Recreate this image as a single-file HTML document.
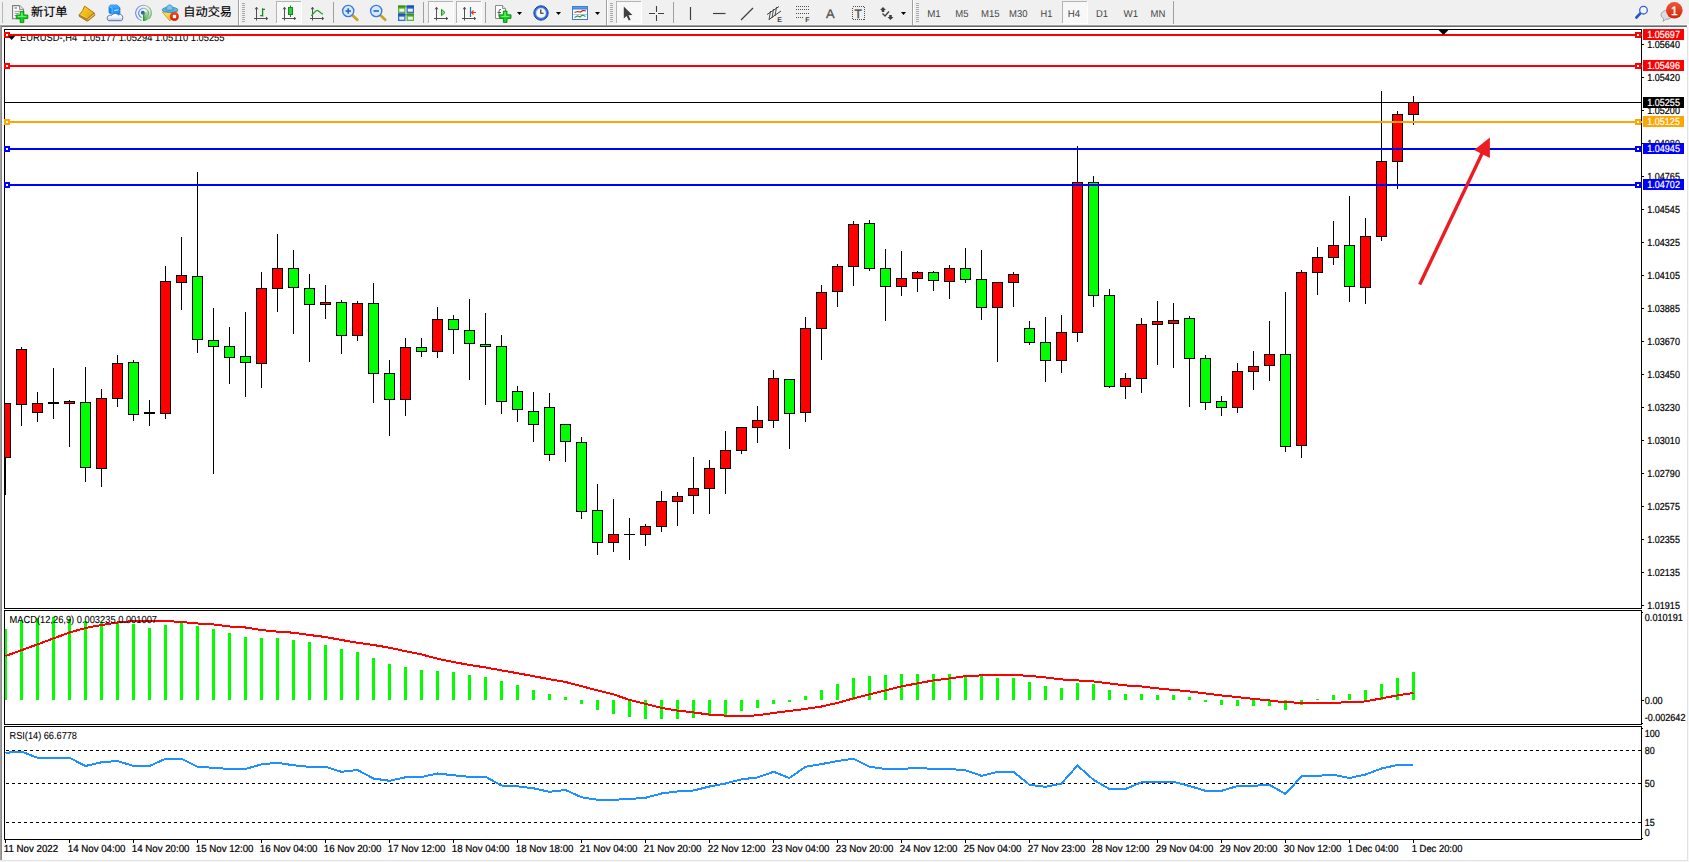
<!DOCTYPE html>
<html lang="zh"><head><meta charset="utf-8"><title>EURUSD-,H4</title>
<style>
html,body{margin:0;padding:0;background:#fff;}
body{width:1689px;height:862px;overflow:hidden;position:relative;}
svg{position:absolute;left:0;top:0;display:block;}
text{font-family:'Liberation Sans', sans-serif;text-rendering:geometricPrecision;}
.t{font-size:10.2px;stroke-width:0.22px;}
.l{stroke-width:0.08px;}
.cjk{font-family:'Liberation Sans', 'Noto Sans CJK SC', sans-serif;}
.c{shape-rendering:crispEdges;}
</style></head><body>
<svg width="1689" height="862" viewBox="0 0 1689 862">
<g class="c">
<rect x="0" y="0" width="1689" height="862" fill="#ffffff"/>
<rect x="0" y="0" width="1689" height="25" fill="#f0f0f0"/>
<rect x="0" y="24" width="1689" height="1" fill="#f6f6f6"/>
<rect x="0" y="25" width="1687" height="1" fill="#a0a0a0"/>
<rect x="1" y="26" width="1686" height="1" fill="#696969"/>
<rect x="0" y="25" width="1" height="836" fill="#a0a0a0"/>
<rect x="1" y="26" width="1" height="834" fill="#8a8a8a"/>
<rect x="1687" y="27" width="1" height="834" fill="#e3e3e3"/>
<rect x="1688" y="26" width="1" height="836" fill="#f7f7f7"/>
<rect x="0" y="860" width="1688" height="1" fill="#e3e3e3"/>
<rect x="0" y="861" width="1689" height="1" fill="#f4f4f4"/>
</g>
<g id="toolbar">
<rect class="c" x="2" y="2" width="1" height="21" fill="#b8b8b8"/>
<g>
<path d="M12.6 5.6 h7 l3.9 3.9 v9.2 h-10.9 z" fill="#ffffff" stroke="#7a7a7a" stroke-width="1.1" stroke-linejoin="round"/>
<path d="M19.5 5.5 v4 h4" fill="#e8e8e8" stroke="#8c8c8c" stroke-width="1"/>
<path d="M14.5 8 h2.5" stroke="#8a8a8a" stroke-width="1.4"/><path d="M14.5 11.3 h6 M14.5 13.4 h4.5 M14.5 15.5 h2" stroke="#8a8a8a" stroke-width="0.9"/>
<path d="M20.2 11.4 h3.6 v3.6 h4 v3.6 h-4 v4 h-3.6 v-4 h-4 v-3.6 h4 z" fill="#12d51e" stroke="#0a8a12" stroke-width="0.9"/>
<path d="M21.2 12.6 h1.4 v3.5 h3.5 v1 h-8 v-1 h3.1 z" fill="#7dfa84" opacity="0.8"/>
</g>
<text class="cjk" x="31" y="15.9" font-size="12.2" fill="#000" stroke="#000" stroke-width="0.15">新订单</text>
<defs><linearGradient id="gb" x1="0" y1="0" x2="1" y2="1"><stop offset="0" stop-color="#f7d23a"/><stop offset="0.5" stop-color="#f0bd16"/><stop offset="1" stop-color="#d9a012"/></linearGradient><linearGradient id="cl" x1="0" y1="0" x2="0" y2="1"><stop offset="0" stop-color="#ffffff"/><stop offset="0.55" stop-color="#eef2f8"/><stop offset="1" stop-color="#b4c3dc"/></linearGradient></defs>
<g>
<path d="M79.2 14.8 L87.3 18.7 L94.3 13 L94.9 15.3 L87.8 21 L86.8 21 L79.1 16.2 Z" fill="#c98d14" stroke="#9c6610" stroke-width="0.8" stroke-linejoin="round"/>
<path d="M87.6 19.6 L94.5 14.1" stroke="#f3e6b8" stroke-width="0.8"/>
<path d="M84.6 6.1 L94.2 12.9 L87.3 18.7 L79.2 14.8 Q83.2 10.8 84.6 6.1 Z" fill="url(#gb)" stroke="#a87212" stroke-width="0.9" stroke-linejoin="round"/>
<path d="M80.6 14.9 L87.2 18" stroke="#f8dd7a" stroke-width="0.8"/>
</g>
<g stroke-linejoin="round">
<path d="M109.1 6.4 L110.6 5.1 L117.2 5.1 L119.9 7.8 L119.9 14 L112.1 14.2 L109.1 12.8 Z" fill="#1e96ff" stroke="#1a5fd0" stroke-width="0.8"/>
<path d="M109.1 6.4 L112.1 8.3 L112.1 14.2 L109.1 12.8 Z" fill="#0a8cf0"/>
<path d="M109.1 6.4 L110.6 5.1 L117.2 5.1 L119.9 7.8 L112.1 8.3 Z" fill="#3aa4ff"/>
<path d="M109.3 6.5 L112.1 8.3 L112.1 14" stroke="#d8ecff" stroke-width="0.5" fill="none"/>
<path d="M114.3 10.1 L118.5 9.2 L118.5 10.2 L114.3 11.1 Z" fill="#e8f4ff"/>
<path d="M108.6 20.7 Q107 20.2 107.2 17.8 Q107.4 16 109.3 15.4 Q110.3 14.9 111.4 15.6 Q112.6 13.3 115.4 13.4 Q117.6 13.5 118.5 15.2 Q119.5 14.2 120.7 14.5 Q122.9 15.2 122.8 17.6 Q122.9 20.2 121.4 20.7 Z" fill="url(#cl)" stroke="#4a6aa8" stroke-width="0.9"/>
</g>
<defs><linearGradient id="sg" x1="0" y1="0" x2="1" y2="0"><stop offset="0" stop-color="#4a78e0"/><stop offset="0.5" stop-color="#7fa0e0"/><stop offset="0.75" stop-color="#9cc8a8"/><stop offset="1" stop-color="#5aa468"/></linearGradient><linearGradient id="sf" x1="0" y1="1" x2="0.8" y2="0"><stop offset="0" stop-color="#1fa01f"/><stop offset="0.5" stop-color="#6fbf6f" stop-opacity="0.75"/><stop offset="1" stop-color="#cfe6cf" stop-opacity="0.25"/></linearGradient></defs>
<g fill="none">
<path d="M143.4 13 V21 A8 8 0 0 0 150.6 9.5 Z" fill="url(#sf)"/>
<path d="M141.5 20.6 A7.8 7.8 0 1 1 148.5 19" stroke="url(#sg)" stroke-width="1.1" opacity="0.85"/>
<path d="M141.8 17.7 A4.9 4.9 0 1 1 146.8 16.8" stroke="url(#sg)" stroke-width="1.1" opacity="0.9"/>
<circle cx="142.8" cy="12.7" r="1.9" fill="#2a5ad0"/>
<path d="M143.6 12.8 V21" stroke="#1fa01f" stroke-width="1.1"/>
</g>
<defs><linearGradient id="yc" x1="0" y1="0" x2="1" y2="1"><stop offset="0" stop-color="#ffe873"/><stop offset="1" stop-color="#efb010"/></linearGradient><linearGradient id="rc" x1="0" y1="0" x2="0" y2="1"><stop offset="0" stop-color="#f04a28"/><stop offset="1" stop-color="#d41800"/></linearGradient></defs>
<g stroke-linejoin="round">
<path d="M162.4 12 L177.7 11.6 L169.8 20.9 Z" fill="url(#yc)" stroke="#c89010" stroke-width="0.8"/>
<ellipse cx="170" cy="9.8" rx="7.9" ry="2.6" fill="#62b4e4" stroke="#2a86b8" stroke-width="0.8"/>
<path d="M166 9.6 C166.3 3.4 172.9 3.4 173.2 9.6 C171 10.6 168 10.6 166 9.6 Z" fill="#7cc6ee" stroke="#2a86b8" stroke-width="0.8"/>
<circle cx="174.4" cy="16.6" r="4.1" fill="url(#rc)" stroke="#b81400" stroke-width="0.5"/>
<rect x="172.8" y="14.9" width="3.3" height="3.3" fill="#ffffff"/>
</g>
<text class="cjk" x="183.3" y="15.9" font-size="12.2" fill="#000" stroke="#000" stroke-width="0.15">自动交易</text>
<rect class="c" x="238" y="0" width="1" height="25" fill="#a0a0a0"/>
<rect class="c" x="239" y="0" width="1" height="25" fill="#ffffff"/>
<rect class="c" x="242" y="3" width="3" height="1" fill="#a8a8a8"/>
<rect class="c" x="242" y="5" width="3" height="1" fill="#a8a8a8"/>
<rect class="c" x="242" y="7" width="3" height="1" fill="#a8a8a8"/>
<rect class="c" x="242" y="9" width="3" height="1" fill="#a8a8a8"/>
<rect class="c" x="242" y="11" width="3" height="1" fill="#a8a8a8"/>
<rect class="c" x="242" y="13" width="3" height="1" fill="#a8a8a8"/>
<rect class="c" x="242" y="15" width="3" height="1" fill="#a8a8a8"/>
<rect class="c" x="242" y="17" width="3" height="1" fill="#a8a8a8"/>
<rect class="c" x="242" y="19" width="3" height="1" fill="#a8a8a8"/>
<rect class="c" x="242" y="21" width="3" height="1" fill="#a8a8a8"/>
<g stroke="#505050" stroke-width="1" fill="none">
<path d="M256.5 7.5 V20.5 M254.0 18.5 H267.5"/>
<path d="M255.2 9.3 L256.5 7.2 L257.8 9.3"/>
<path d="M266.0 17.2 L267.8 18.5 L266.0 19.8"/>
</g>
<path d="M262.6 8.2 V16.6 M260.2 15.6 H262.6 M262.6 9.4 H265" stroke="#158a1e" stroke-width="1.3" fill="none"/>
<rect class="c" x="276" y="1" width="26" height="23" fill="#f8f8f8"/>
<rect class="c" x="276" y="1" width="26" height="1" fill="#b4b4b4"/>
<rect class="c" x="276" y="1" width="1" height="23" fill="#b4b4b4"/>
<rect class="c" x="301" y="1" width="1" height="23" fill="#ffffff"/>
<rect class="c" x="276" y="23" width="26" height="1" fill="#ffffff"/>
<g stroke="#505050" stroke-width="1" fill="none">
<path d="M284.5 7.5 V20.5 M282.0 18.5 H295.5"/>
<path d="M283.2 9.3 L284.5 7.2 L285.8 9.3"/>
<path d="M294.0 17.2 L295.8 18.5 L294.0 19.8"/>
</g>
<path d="M290.5 5.5 V17" stroke="#158a20" stroke-width="1"/>
<rect x="288.5" y="7.5" width="4" height="7" fill="#2fd03a" stroke="#158a20" stroke-width="1"/>
<g stroke="#505050" stroke-width="1" fill="none">
<path d="M312.5 7.5 V20.5 M310.0 18.5 H323.5"/>
<path d="M311.2 9.3 L312.5 7.2 L313.8 9.3"/>
<path d="M322.0 17.2 L323.8 18.5 L322.0 19.8"/>
</g>
<path d="M311.3 15.8 C313.5 14 315.3 10.2 317.2 10.3 C319 10.4 320.5 13.5 323 14.2" stroke="#22a32e" stroke-width="1.3" fill="none"/>
<rect class="c" x="333" y="2" width="1" height="21" fill="#a0a0a0"/>
<path d="M352.7 15.5 L357.2 19.8" stroke="#c9a227" stroke-width="2.8" stroke-linecap="round"/>
<circle cx="348.2" cy="11" r="5.6" fill="#d6e9fb" stroke="#3a7bd5" stroke-width="1.4"/>
<path d="M345.5 11 h5.4" stroke="#2a66c8" stroke-width="1.7"/>
<path d="M348.2 8.3 v5.4" stroke="#2a66c8" stroke-width="1.7"/>
<path d="M380.7 15.5 L385.2 19.8" stroke="#c9a227" stroke-width="2.8" stroke-linecap="round"/>
<circle cx="376.2" cy="11" r="5.6" fill="#d6e9fb" stroke="#3a7bd5" stroke-width="1.4"/>
<path d="M373.5 11 h5.4" stroke="#2a66c8" stroke-width="1.7"/>
<rect x="398.0" y="5.5" width="7.5" height="7.5" fill="#5cb531"/>
<rect x="398.0" y="5.5" width="7.5" height="2" fill="#3d8e1c"/>
<rect x="399.3" y="8.7" width="5" height="3" fill="#ffffff" opacity="0.9"/>
<rect x="406.5" y="5.5" width="7.5" height="7.5" fill="#2f6fd8"/>
<rect x="406.5" y="5.5" width="7.5" height="2" fill="#1d4fb0"/>
<rect x="407.8" y="8.7" width="5" height="3" fill="#ffffff" opacity="0.9"/>
<rect x="398.0" y="13.5" width="7.5" height="7.5" fill="#2f6fd8"/>
<rect x="398.0" y="13.5" width="7.5" height="2" fill="#1d4fb0"/>
<rect x="399.3" y="16.7" width="5" height="3" fill="#ffffff" opacity="0.9"/>
<rect x="406.5" y="13.5" width="7.5" height="7.5" fill="#5cb531"/>
<rect x="406.5" y="13.5" width="7.5" height="2" fill="#3d8e1c"/>
<rect x="407.8" y="16.7" width="5" height="3" fill="#ffffff" opacity="0.9"/>
<rect class="c" x="423" y="2" width="1" height="21" fill="#a0a0a0"/>
<rect class="c" x="428" y="1" width="26" height="23" fill="#f8f8f8"/>
<rect class="c" x="428" y="1" width="26" height="1" fill="#b4b4b4"/>
<rect class="c" x="428" y="1" width="1" height="23" fill="#b4b4b4"/>
<rect class="c" x="453" y="1" width="1" height="23" fill="#ffffff"/>
<rect class="c" x="428" y="23" width="26" height="1" fill="#ffffff"/>
<g stroke="#505050" stroke-width="1" fill="none">
<path d="M436.5 7.5 V20.5 M434.0 18.5 H447.5"/>
<path d="M435.2 9.3 L436.5 7.2 L437.8 9.3"/>
<path d="M446.0 17.2 L447.8 18.5 L446.0 19.8"/>
</g>
<path d="M441.5 9.3 L445 12.5 L441.5 15.7 Z" fill="#7be07f" stroke="#1f9a2a" stroke-width="1"/>
<rect class="c" x="456" y="1" width="26" height="23" fill="#f8f8f8"/>
<rect class="c" x="456" y="1" width="26" height="1" fill="#b4b4b4"/>
<rect class="c" x="456" y="1" width="1" height="23" fill="#b4b4b4"/>
<rect class="c" x="481" y="1" width="1" height="23" fill="#ffffff"/>
<rect class="c" x="456" y="23" width="26" height="1" fill="#ffffff"/>
<g stroke="#505050" stroke-width="1" fill="none">
<path d="M464.5 7.5 V20.5 M462.0 18.5 H475.5"/>
<path d="M463.2 9.3 L464.5 7.2 L465.8 9.3"/>
<path d="M474.0 17.2 L475.8 18.5 L474.0 19.8"/>
</g>
<path d="M470.5 7 V17" stroke="#2a6fb8" stroke-width="1.2"/>
<path d="M476 12.5 H471.5 M473.5 10.5 L471.5 12.5 L473.5 14.5" stroke="#d8401c" stroke-width="1.2" fill="none"/>
<rect class="c" x="485" y="2" width="1" height="21" fill="#a0a0a0"/>
<path d="M495.5 5.5 h7 l3 3 v10 h-10 z" fill="#ffffff" stroke="#8c8c8c" stroke-width="1"/>
<path d="M502.5 5.5 v3 h3" fill="#e8e8e8" stroke="#8c8c8c" stroke-width="1"/>
<path d="M501 9.5 q-2 -0.5 -2 2 v5 M497.5 12.5 h3.5" stroke="#555" stroke-width="1" fill="none"/>
<path d="M503.4 11 h3.6 v3.8 h4 v3.6 h-4 v4 h-3.6 v-4 h-4 v-3.6 h4 z" fill="#12d51e" stroke="#0a8a12" stroke-width="0.9"/>
<path d="M504.4 12.3 h1.4 v3.6 h3.5 v1 h-8 v-1 h3.1 z" fill="#7dfa84" opacity="0.8"/>
<path d="M517 12 h5 l-2.5 3 z" fill="#000"/>
<circle cx="541" cy="13" r="7.2" fill="#2f6fd8" stroke="#1b4aa8" stroke-width="1"/>
<circle cx="541" cy="13" r="5" fill="#f4f7fb" stroke="#9db7e6" stroke-width="0.6"/>
<path d="M540.8 9.6 V13.2 H543.6" stroke="#222" stroke-width="1.1" fill="none"/>
<path d="M556 12 h5 l-2.5 3 z" fill="#000"/>
<rect x="572.5" y="6.5" width="15" height="13" fill="#ffffff" stroke="#3a7bd5" stroke-width="1"/>
<rect x="572.5" y="6.5" width="15" height="2.5" fill="#5d9be6" stroke="#3a7bd5" stroke-width="1"/>
<path d="M574.5 12.5 l3 -1 l3 0.5 l2.5 -1.5 l3 0.5" stroke="#b03020" stroke-width="1.2" fill="none"/>
<path d="M574.5 17.5 l3 -1.5 l2.5 1 l2.5 -2 l3 1.5" stroke="#2f9a2f" stroke-width="1.2" fill="none"/>
<path d="M573 14.5 h14" stroke="#9db7e6" stroke-width="0.8"/>
<path d="M595 12 h5 l-2.5 3 z" fill="#000"/>
<rect class="c" x="606" y="0" width="1" height="25" fill="#a0a0a0"/>
<rect class="c" x="607" y="0" width="1" height="25" fill="#ffffff"/>
<rect class="c" x="610" y="3" width="3" height="1" fill="#a8a8a8"/>
<rect class="c" x="610" y="5" width="3" height="1" fill="#a8a8a8"/>
<rect class="c" x="610" y="7" width="3" height="1" fill="#a8a8a8"/>
<rect class="c" x="610" y="9" width="3" height="1" fill="#a8a8a8"/>
<rect class="c" x="610" y="11" width="3" height="1" fill="#a8a8a8"/>
<rect class="c" x="610" y="13" width="3" height="1" fill="#a8a8a8"/>
<rect class="c" x="610" y="15" width="3" height="1" fill="#a8a8a8"/>
<rect class="c" x="610" y="17" width="3" height="1" fill="#a8a8a8"/>
<rect class="c" x="610" y="19" width="3" height="1" fill="#a8a8a8"/>
<rect class="c" x="610" y="21" width="3" height="1" fill="#a8a8a8"/>
<rect class="c" x="616" y="1" width="26" height="23" fill="#f8f8f8"/>
<rect class="c" x="616" y="1" width="26" height="1" fill="#b4b4b4"/>
<rect class="c" x="616" y="1" width="1" height="23" fill="#b4b4b4"/>
<rect class="c" x="641" y="1" width="1" height="23" fill="#ffffff"/>
<rect class="c" x="616" y="23" width="26" height="1" fill="#ffffff"/>
<path d="M623.8 6.5 L623.8 18.5 L626.6 15.9 L628.8 20.6 L630.6 19.7 L628.5 15.2 L632.4 15 Z" fill="#404040"/>
<path d="M656.5 6 V21 M649 13.5 H664" stroke="#404040" stroke-width="1.1"/>
<rect x="655" y="12" width="3" height="3" fill="#f0f0f0"/>
<rect class="c" x="673" y="2" width="1" height="21" fill="#a0a0a0"/>
<path d="M690.5 7 V20" stroke="#404040" stroke-width="1.2"/>
<path d="M713 13.5 H725.5" stroke="#404040" stroke-width="1.2"/>
<path d="M741 20 L753 8" stroke="#404040" stroke-width="1.2"/>
<g stroke="#404040" stroke-width="1" fill="none">
<path d="M767 14.5 L779 6.5 M769 19.5 L781 11"/>
<path d="M770.5 11 L769 20 M773.5 9 L772 18 M776.5 7 L775 16" stroke-width="0.9"/>
</g>
<text x="777.2" y="21.8" font-size="7" font-weight="bold" fill="#404040">E</text>
<g class="c" stroke="#505050" stroke-width="1" stroke-dasharray="1 1" fill="none">
<path d="M796 6.5 H809 M796 9.5 H809 M796 13.5 H809 M796 17.5 H804"/>
</g>
<text x="805.2" y="21.8" font-size="7" font-weight="bold" fill="#404040">F</text>
<text x="826" y="18.2" font-size="12.5" fill="#505050" stroke="#505050" stroke-width="0.3" textLength="8.6" lengthAdjust="spacingAndGlyphs">A</text>
<rect class="c" x="852.5" y="6.5" width="12" height="13" fill="none" stroke="#505050" stroke-width="1" stroke-dasharray="1 1"/>
<text x="854.6" y="17.8" font-size="12" fill="#505050" stroke="#505050" stroke-width="0.4">T</text>
<path d="M880 10 L883 7 L886 10 L884.3 10 L884.3 12 L881.7 12 L881.7 10 Z" fill="#404040"/>
<path d="M887.5 17 L889.2 17 L889.2 15 L891.8 15 L891.8 17 L893.5 17 L890.5 20 Z" fill="#404040"/>
<path d="M882.5 13.5 L885 16 L889 11.5" stroke="#404040" stroke-width="1.3" fill="none"/>
<path d="M901 12 h5 l-2.5 3 z" fill="#000"/>
<rect class="c" x="912" y="0" width="1" height="25" fill="#a0a0a0"/>
<rect class="c" x="913" y="0" width="1" height="25" fill="#ffffff"/>
<rect class="c" x="916" y="3" width="3" height="1" fill="#a8a8a8"/>
<rect class="c" x="916" y="5" width="3" height="1" fill="#a8a8a8"/>
<rect class="c" x="916" y="7" width="3" height="1" fill="#a8a8a8"/>
<rect class="c" x="916" y="9" width="3" height="1" fill="#a8a8a8"/>
<rect class="c" x="916" y="11" width="3" height="1" fill="#a8a8a8"/>
<rect class="c" x="916" y="13" width="3" height="1" fill="#a8a8a8"/>
<rect class="c" x="916" y="15" width="3" height="1" fill="#a8a8a8"/>
<rect class="c" x="916" y="17" width="3" height="1" fill="#a8a8a8"/>
<rect class="c" x="916" y="19" width="3" height="1" fill="#a8a8a8"/>
<rect class="c" x="916" y="21" width="3" height="1" fill="#a8a8a8"/>
<rect class="c" x="1062" y="1" width="26" height="23" fill="#f8f8f8"/>
<rect class="c" x="1062" y="1" width="26" height="1" fill="#b4b4b4"/>
<rect class="c" x="1062" y="1" width="1" height="23" fill="#b4b4b4"/>
<rect class="c" x="1087" y="1" width="1" height="23" fill="#ffffff"/>
<rect class="c" x="1062" y="23" width="26" height="1" fill="#ffffff"/>
<text x="927.2" y="17.2" font-size="10" fill="#444444" textLength="13.6" lengthAdjust="spacingAndGlyphs">M1</text>
<text x="955.3" y="17.2" font-size="10" fill="#444444" textLength="13.2" lengthAdjust="spacingAndGlyphs">M5</text>
<text x="981.0" y="17.2" font-size="10" fill="#444444" textLength="18.6" lengthAdjust="spacingAndGlyphs">M15</text>
<text x="1009.0" y="17.2" font-size="10" fill="#444444" textLength="18.4" lengthAdjust="spacingAndGlyphs">M30</text>
<text x="1040.5" y="17.2" font-size="10" fill="#444444" textLength="11.8" lengthAdjust="spacingAndGlyphs">H1</text>
<text x="1067.7" y="17.2" font-size="10" fill="#444444" textLength="12.4" lengthAdjust="spacingAndGlyphs">H4</text>
<text x="1096.0" y="17.2" font-size="10" fill="#444444" textLength="12.0" lengthAdjust="spacingAndGlyphs">D1</text>
<text x="1123.6" y="17.2" font-size="10" fill="#444444" textLength="14.6" lengthAdjust="spacingAndGlyphs">W1</text>
<text x="1150.5" y="17.2" font-size="10" fill="#444444" textLength="14.8" lengthAdjust="spacingAndGlyphs">MN</text>
<rect class="c" x="1173" y="1" width="1" height="23" fill="#a0a0a0"/>
<path d="M1640.8 12.9 L1636.4 17.5" stroke="#2558cc" stroke-width="2.7" stroke-linecap="round"/>
<circle cx="1643.5" cy="10.2" r="3.8" fill="#f4f4f8" stroke="#2f62d8" stroke-width="1.3"/>
<path d="M1661 15 a5.5 4.5 0 0 1 11 0 a5.5 4.5 0 0 1 -6.5 4.3 l-2.3 2.2 l0.3 -3 a5 4.5 0 0 1 -2.5 -3.5 z" fill="#dddde3" stroke="#9c9c9c" stroke-width="0.9"/>
<defs><linearGradient id="bd" x1="0" y1="0" x2="0" y2="1"><stop offset="0" stop-color="#ea5a3a"/><stop offset="1" stop-color="#d62408"/></linearGradient></defs>
<circle cx="1674.3" cy="10.3" r="8.3" fill="url(#bd)"/>
<text x="1670.9" y="14.5" font-size="12" fill="#ffffff" stroke="#ffffff" stroke-width="0.35">1</text>
</g>
<g class="c">
<rect x="4" y="29" width="1638" height="1" fill="#000"/>
<rect x="4" y="29" width="1" height="580" fill="#000"/>
<rect x="4" y="608" width="1638" height="1" fill="#000"/>
<rect x="1641" y="29" width="1" height="580" fill="#000"/>
<rect x="4" y="610" width="1638" height="1" fill="#000"/>
<rect x="4" y="610" width="1" height="115" fill="#000"/>
<rect x="4" y="724" width="1638" height="1" fill="#000"/>
<rect x="1641" y="610" width="1" height="115" fill="#000"/>
<rect x="4" y="726" width="1638" height="1" fill="#000"/>
<rect x="4" y="726" width="1" height="114" fill="#000"/>
<rect x="4" y="839" width="1638" height="1" fill="#000"/>
<rect x="1641" y="726" width="1" height="114" fill="#000"/>
</g>
<g class="c">
<rect x="5" y="403" width="1" height="92" fill="#000"/>
<rect x="5" y="403" width="6" height="55" fill="#000"/>
<rect x="5" y="404" width="5" height="53" fill="#ff0000"/>
<rect x="21" y="347" width="1" height="79" fill="#000"/>
<rect x="16" y="349" width="11" height="56" fill="#000"/>
<rect x="17" y="350" width="9" height="54" fill="#ff0000"/>
<rect x="37" y="392" width="1" height="30" fill="#000"/>
<rect x="32" y="403" width="11" height="10" fill="#000"/>
<rect x="33" y="404" width="9" height="8" fill="#ff0000"/>
<rect x="53" y="368" width="1" height="51" fill="#000"/>
<rect x="48" y="402" width="11" height="2" fill="#000"/>
<rect x="69" y="400" width="1" height="47" fill="#000"/>
<rect x="64" y="401" width="11" height="3" fill="#000"/>
<rect x="65" y="402" width="9" height="1" fill="#ff0000"/>
<rect x="85" y="367" width="1" height="115" fill="#000"/>
<rect x="80" y="402" width="11" height="66" fill="#000"/>
<rect x="81" y="403" width="9" height="64" fill="#00ff00"/>
<rect x="101" y="389" width="1" height="98" fill="#000"/>
<rect x="96" y="398" width="11" height="71" fill="#000"/>
<rect x="97" y="399" width="9" height="69" fill="#ff0000"/>
<rect x="117" y="355" width="1" height="52" fill="#000"/>
<rect x="112" y="363" width="11" height="36" fill="#000"/>
<rect x="113" y="364" width="9" height="34" fill="#ff0000"/>
<rect x="133" y="360" width="1" height="61" fill="#000"/>
<rect x="128" y="362" width="11" height="53" fill="#000"/>
<rect x="129" y="363" width="9" height="51" fill="#00ff00"/>
<rect x="149" y="400" width="1" height="26" fill="#000"/>
<rect x="144" y="412" width="11" height="2" fill="#000"/>
<rect x="165" y="266" width="1" height="153" fill="#000"/>
<rect x="160" y="281" width="11" height="133" fill="#000"/>
<rect x="161" y="282" width="9" height="131" fill="#ff0000"/>
<rect x="181" y="237" width="1" height="73" fill="#000"/>
<rect x="176" y="275" width="11" height="8" fill="#000"/>
<rect x="177" y="276" width="9" height="6" fill="#ff0000"/>
<rect x="197" y="172" width="1" height="181" fill="#000"/>
<rect x="192" y="276" width="11" height="64" fill="#000"/>
<rect x="193" y="277" width="9" height="62" fill="#00ff00"/>
<rect x="213" y="308" width="1" height="166" fill="#000"/>
<rect x="208" y="340" width="11" height="7" fill="#000"/>
<rect x="209" y="341" width="9" height="5" fill="#00ff00"/>
<rect x="229" y="327" width="1" height="57" fill="#000"/>
<rect x="224" y="346" width="11" height="12" fill="#000"/>
<rect x="225" y="347" width="9" height="10" fill="#00ff00"/>
<rect x="245" y="312" width="1" height="85" fill="#000"/>
<rect x="240" y="356" width="11" height="7" fill="#000"/>
<rect x="241" y="357" width="9" height="5" fill="#00ff00"/>
<rect x="261" y="272" width="1" height="116" fill="#000"/>
<rect x="256" y="288" width="11" height="76" fill="#000"/>
<rect x="257" y="289" width="9" height="74" fill="#ff0000"/>
<rect x="277" y="234" width="1" height="78" fill="#000"/>
<rect x="272" y="268" width="11" height="21" fill="#000"/>
<rect x="273" y="269" width="9" height="19" fill="#ff0000"/>
<rect x="293" y="250" width="1" height="84" fill="#000"/>
<rect x="288" y="268" width="11" height="20" fill="#000"/>
<rect x="289" y="269" width="9" height="18" fill="#00ff00"/>
<rect x="309" y="274" width="1" height="88" fill="#000"/>
<rect x="304" y="288" width="11" height="17" fill="#000"/>
<rect x="305" y="289" width="9" height="15" fill="#00ff00"/>
<rect x="325" y="285" width="1" height="34" fill="#000"/>
<rect x="320" y="302" width="11" height="3" fill="#000"/>
<rect x="321" y="303" width="9" height="1" fill="#ff0000"/>
<rect x="341" y="300" width="1" height="54" fill="#000"/>
<rect x="336" y="302" width="11" height="34" fill="#000"/>
<rect x="337" y="303" width="9" height="32" fill="#00ff00"/>
<rect x="357" y="301" width="1" height="40" fill="#000"/>
<rect x="352" y="303" width="11" height="33" fill="#000"/>
<rect x="353" y="304" width="9" height="31" fill="#ff0000"/>
<rect x="373" y="283" width="1" height="120" fill="#000"/>
<rect x="368" y="303" width="11" height="71" fill="#000"/>
<rect x="369" y="304" width="9" height="69" fill="#00ff00"/>
<rect x="389" y="360" width="1" height="76" fill="#000"/>
<rect x="384" y="373" width="11" height="27" fill="#000"/>
<rect x="385" y="374" width="9" height="25" fill="#00ff00"/>
<rect x="405" y="338" width="1" height="78" fill="#000"/>
<rect x="400" y="347" width="11" height="53" fill="#000"/>
<rect x="401" y="348" width="9" height="51" fill="#ff0000"/>
<rect x="421" y="338" width="1" height="19" fill="#000"/>
<rect x="416" y="347" width="11" height="5" fill="#000"/>
<rect x="417" y="348" width="9" height="3" fill="#00ff00"/>
<rect x="437" y="307" width="1" height="51" fill="#000"/>
<rect x="432" y="319" width="11" height="33" fill="#000"/>
<rect x="433" y="320" width="9" height="31" fill="#ff0000"/>
<rect x="453" y="315" width="1" height="39" fill="#000"/>
<rect x="448" y="319" width="11" height="11" fill="#000"/>
<rect x="449" y="320" width="9" height="9" fill="#00ff00"/>
<rect x="469" y="299" width="1" height="81" fill="#000"/>
<rect x="464" y="330" width="11" height="14" fill="#000"/>
<rect x="465" y="331" width="9" height="12" fill="#00ff00"/>
<rect x="485" y="313" width="1" height="92" fill="#000"/>
<rect x="480" y="344" width="11" height="3" fill="#000"/>
<rect x="481" y="345" width="9" height="1" fill="#00ff00"/>
<rect x="501" y="335" width="1" height="79" fill="#000"/>
<rect x="496" y="346" width="11" height="56" fill="#000"/>
<rect x="497" y="347" width="9" height="54" fill="#00ff00"/>
<rect x="517" y="386" width="1" height="36" fill="#000"/>
<rect x="512" y="391" width="11" height="19" fill="#000"/>
<rect x="513" y="392" width="9" height="17" fill="#00ff00"/>
<rect x="533" y="392" width="1" height="50" fill="#000"/>
<rect x="528" y="411" width="11" height="14" fill="#000"/>
<rect x="529" y="412" width="9" height="12" fill="#00ff00"/>
<rect x="549" y="393" width="1" height="68" fill="#000"/>
<rect x="544" y="407" width="11" height="48" fill="#000"/>
<rect x="545" y="408" width="9" height="46" fill="#00ff00"/>
<rect x="565" y="424" width="1" height="38" fill="#000"/>
<rect x="560" y="424" width="11" height="18" fill="#000"/>
<rect x="561" y="425" width="9" height="16" fill="#00ff00"/>
<rect x="581" y="437" width="1" height="82" fill="#000"/>
<rect x="576" y="442" width="11" height="70" fill="#000"/>
<rect x="577" y="443" width="9" height="68" fill="#00ff00"/>
<rect x="597" y="484" width="1" height="71" fill="#000"/>
<rect x="592" y="510" width="11" height="33" fill="#000"/>
<rect x="593" y="511" width="9" height="31" fill="#00ff00"/>
<rect x="613" y="499" width="1" height="53" fill="#000"/>
<rect x="608" y="534" width="11" height="9" fill="#000"/>
<rect x="609" y="535" width="9" height="7" fill="#ff0000"/>
<rect x="629" y="518" width="1" height="42" fill="#000"/>
<rect x="624" y="534" width="11" height="1" fill="#000"/>
<rect x="645" y="524" width="1" height="22" fill="#000"/>
<rect x="640" y="526" width="11" height="9" fill="#000"/>
<rect x="641" y="527" width="9" height="7" fill="#ff0000"/>
<rect x="661" y="491" width="1" height="41" fill="#000"/>
<rect x="656" y="501" width="11" height="26" fill="#000"/>
<rect x="657" y="502" width="9" height="24" fill="#ff0000"/>
<rect x="677" y="492" width="1" height="34" fill="#000"/>
<rect x="672" y="496" width="11" height="6" fill="#000"/>
<rect x="673" y="497" width="9" height="4" fill="#ff0000"/>
<rect x="693" y="457" width="1" height="57" fill="#000"/>
<rect x="688" y="488" width="11" height="8" fill="#000"/>
<rect x="689" y="489" width="9" height="6" fill="#ff0000"/>
<rect x="709" y="460" width="1" height="54" fill="#000"/>
<rect x="704" y="468" width="11" height="21" fill="#000"/>
<rect x="705" y="469" width="9" height="19" fill="#ff0000"/>
<rect x="725" y="431" width="1" height="63" fill="#000"/>
<rect x="720" y="450" width="11" height="19" fill="#000"/>
<rect x="721" y="451" width="9" height="17" fill="#ff0000"/>
<rect x="741" y="427" width="1" height="27" fill="#000"/>
<rect x="736" y="427" width="11" height="24" fill="#000"/>
<rect x="737" y="428" width="9" height="22" fill="#ff0000"/>
<rect x="757" y="406" width="1" height="37" fill="#000"/>
<rect x="752" y="420" width="11" height="8" fill="#000"/>
<rect x="753" y="421" width="9" height="6" fill="#ff0000"/>
<rect x="773" y="370" width="1" height="58" fill="#000"/>
<rect x="768" y="378" width="11" height="43" fill="#000"/>
<rect x="769" y="379" width="9" height="41" fill="#ff0000"/>
<rect x="789" y="379" width="1" height="70" fill="#000"/>
<rect x="784" y="379" width="11" height="35" fill="#000"/>
<rect x="785" y="380" width="9" height="33" fill="#00ff00"/>
<rect x="805" y="317" width="1" height="105" fill="#000"/>
<rect x="800" y="328" width="11" height="85" fill="#000"/>
<rect x="801" y="329" width="9" height="83" fill="#ff0000"/>
<rect x="821" y="285" width="1" height="75" fill="#000"/>
<rect x="816" y="292" width="11" height="37" fill="#000"/>
<rect x="817" y="293" width="9" height="35" fill="#ff0000"/>
<rect x="837" y="264" width="1" height="43" fill="#000"/>
<rect x="832" y="266" width="11" height="26" fill="#000"/>
<rect x="833" y="267" width="9" height="24" fill="#ff0000"/>
<rect x="853" y="221" width="1" height="65" fill="#000"/>
<rect x="848" y="224" width="11" height="43" fill="#000"/>
<rect x="849" y="225" width="9" height="41" fill="#ff0000"/>
<rect x="869" y="220" width="1" height="51" fill="#000"/>
<rect x="864" y="223" width="11" height="46" fill="#000"/>
<rect x="865" y="224" width="9" height="44" fill="#00ff00"/>
<rect x="885" y="249" width="1" height="72" fill="#000"/>
<rect x="880" y="268" width="11" height="19" fill="#000"/>
<rect x="881" y="269" width="9" height="17" fill="#00ff00"/>
<rect x="901" y="251" width="1" height="45" fill="#000"/>
<rect x="896" y="278" width="11" height="9" fill="#000"/>
<rect x="897" y="279" width="9" height="7" fill="#ff0000"/>
<rect x="917" y="271" width="1" height="21" fill="#000"/>
<rect x="912" y="272" width="11" height="7" fill="#000"/>
<rect x="913" y="273" width="9" height="5" fill="#ff0000"/>
<rect x="933" y="271" width="1" height="20" fill="#000"/>
<rect x="928" y="272" width="11" height="9" fill="#000"/>
<rect x="929" y="273" width="9" height="7" fill="#00ff00"/>
<rect x="949" y="265" width="1" height="34" fill="#000"/>
<rect x="944" y="268" width="11" height="14" fill="#000"/>
<rect x="945" y="269" width="9" height="12" fill="#ff0000"/>
<rect x="965" y="248" width="1" height="35" fill="#000"/>
<rect x="960" y="268" width="11" height="12" fill="#000"/>
<rect x="961" y="269" width="9" height="10" fill="#00ff00"/>
<rect x="981" y="250" width="1" height="70" fill="#000"/>
<rect x="976" y="279" width="11" height="29" fill="#000"/>
<rect x="977" y="280" width="9" height="27" fill="#00ff00"/>
<rect x="997" y="282" width="1" height="80" fill="#000"/>
<rect x="992" y="282" width="11" height="26" fill="#000"/>
<rect x="993" y="283" width="9" height="24" fill="#ff0000"/>
<rect x="1013" y="272" width="1" height="35" fill="#000"/>
<rect x="1008" y="274" width="11" height="9" fill="#000"/>
<rect x="1009" y="275" width="9" height="7" fill="#ff0000"/>
<rect x="1029" y="321" width="1" height="24" fill="#000"/>
<rect x="1024" y="328" width="11" height="15" fill="#000"/>
<rect x="1025" y="329" width="9" height="13" fill="#00ff00"/>
<rect x="1045" y="317" width="1" height="65" fill="#000"/>
<rect x="1040" y="342" width="11" height="19" fill="#000"/>
<rect x="1041" y="343" width="9" height="17" fill="#00ff00"/>
<rect x="1061" y="315" width="1" height="58" fill="#000"/>
<rect x="1056" y="332" width="11" height="29" fill="#000"/>
<rect x="1057" y="333" width="9" height="27" fill="#ff0000"/>
<rect x="1077" y="146" width="1" height="196" fill="#000"/>
<rect x="1072" y="182" width="11" height="151" fill="#000"/>
<rect x="1073" y="183" width="9" height="149" fill="#ff0000"/>
<rect x="1093" y="176" width="1" height="131" fill="#000"/>
<rect x="1088" y="182" width="11" height="114" fill="#000"/>
<rect x="1089" y="183" width="9" height="112" fill="#00ff00"/>
<rect x="1109" y="289" width="1" height="99" fill="#000"/>
<rect x="1104" y="295" width="11" height="92" fill="#000"/>
<rect x="1105" y="296" width="9" height="90" fill="#00ff00"/>
<rect x="1125" y="373" width="1" height="26" fill="#000"/>
<rect x="1120" y="378" width="11" height="9" fill="#000"/>
<rect x="1121" y="379" width="9" height="7" fill="#ff0000"/>
<rect x="1141" y="318" width="1" height="75" fill="#000"/>
<rect x="1136" y="324" width="11" height="55" fill="#000"/>
<rect x="1137" y="325" width="9" height="53" fill="#ff0000"/>
<rect x="1157" y="301" width="1" height="64" fill="#000"/>
<rect x="1152" y="321" width="11" height="4" fill="#000"/>
<rect x="1153" y="322" width="9" height="2" fill="#ff0000"/>
<rect x="1173" y="303" width="1" height="65" fill="#000"/>
<rect x="1168" y="320" width="11" height="4" fill="#000"/>
<rect x="1169" y="321" width="9" height="2" fill="#ff0000"/>
<rect x="1189" y="316" width="1" height="91" fill="#000"/>
<rect x="1184" y="318" width="11" height="41" fill="#000"/>
<rect x="1185" y="319" width="9" height="39" fill="#00ff00"/>
<rect x="1205" y="355" width="1" height="55" fill="#000"/>
<rect x="1200" y="358" width="11" height="45" fill="#000"/>
<rect x="1201" y="359" width="9" height="43" fill="#00ff00"/>
<rect x="1221" y="396" width="1" height="20" fill="#000"/>
<rect x="1216" y="401" width="11" height="7" fill="#000"/>
<rect x="1217" y="402" width="9" height="5" fill="#00ff00"/>
<rect x="1237" y="363" width="1" height="50" fill="#000"/>
<rect x="1232" y="371" width="11" height="37" fill="#000"/>
<rect x="1233" y="372" width="9" height="35" fill="#ff0000"/>
<rect x="1253" y="351" width="1" height="39" fill="#000"/>
<rect x="1248" y="366" width="11" height="6" fill="#000"/>
<rect x="1249" y="367" width="9" height="4" fill="#ff0000"/>
<rect x="1269" y="321" width="1" height="60" fill="#000"/>
<rect x="1264" y="354" width="11" height="12" fill="#000"/>
<rect x="1265" y="355" width="9" height="10" fill="#ff0000"/>
<rect x="1285" y="292" width="1" height="160" fill="#000"/>
<rect x="1280" y="354" width="11" height="93" fill="#000"/>
<rect x="1281" y="355" width="9" height="91" fill="#00ff00"/>
<rect x="1301" y="270" width="1" height="188" fill="#000"/>
<rect x="1296" y="272" width="11" height="174" fill="#000"/>
<rect x="1297" y="273" width="9" height="172" fill="#ff0000"/>
<rect x="1317" y="247" width="1" height="48" fill="#000"/>
<rect x="1312" y="257" width="11" height="16" fill="#000"/>
<rect x="1313" y="258" width="9" height="14" fill="#ff0000"/>
<rect x="1333" y="221" width="1" height="44" fill="#000"/>
<rect x="1328" y="245" width="11" height="13" fill="#000"/>
<rect x="1329" y="246" width="9" height="11" fill="#ff0000"/>
<rect x="1349" y="196" width="1" height="106" fill="#000"/>
<rect x="1344" y="245" width="11" height="42" fill="#000"/>
<rect x="1345" y="246" width="9" height="40" fill="#00ff00"/>
<rect x="1365" y="218" width="1" height="86" fill="#000"/>
<rect x="1360" y="236" width="11" height="52" fill="#000"/>
<rect x="1361" y="237" width="9" height="50" fill="#ff0000"/>
<rect x="1381" y="91" width="1" height="150" fill="#000"/>
<rect x="1376" y="161" width="11" height="76" fill="#000"/>
<rect x="1377" y="162" width="9" height="74" fill="#ff0000"/>
<rect x="1397" y="111" width="1" height="78" fill="#000"/>
<rect x="1392" y="114" width="11" height="48" fill="#000"/>
<rect x="1393" y="115" width="9" height="46" fill="#ff0000"/>
<rect x="1413" y="96" width="1" height="29" fill="#000"/>
<rect x="1408" y="102" width="11" height="13" fill="#000"/>
<rect x="1409" y="103" width="9" height="11" fill="#ff0000"/>
</g>
<g class="c">
<rect x="5" y="102" width="1636" height="1" fill="#000"/>
<rect x="5" y="34" width="1637" height="2" fill="#ff0000"/>
<rect x="4" y="32" width="6" height="6" fill="#ff0000"/>
<rect x="6" y="34" width="2" height="2" fill="#fff"/>
<rect x="1635" y="32" width="6" height="6" fill="#ff0000"/>
<rect x="1637" y="34" width="2" height="2" fill="#fff"/>
<rect x="5" y="65" width="1637" height="2" fill="#ff0000"/>
<rect x="4" y="63" width="6" height="6" fill="#ff0000"/>
<rect x="6" y="65" width="2" height="2" fill="#fff"/>
<rect x="1635" y="63" width="6" height="6" fill="#ff0000"/>
<rect x="1637" y="65" width="2" height="2" fill="#fff"/>
<rect x="5" y="121" width="1637" height="2" fill="#ffa500"/>
<rect x="4" y="119" width="6" height="6" fill="#ffa500"/>
<rect x="6" y="121" width="2" height="2" fill="#fff"/>
<rect x="1635" y="119" width="6" height="6" fill="#ffa500"/>
<rect x="1637" y="121" width="2" height="2" fill="#fff"/>
<rect x="5" y="148" width="1637" height="2" fill="#0000ff"/>
<rect x="4" y="146" width="6" height="6" fill="#0000ff"/>
<rect x="6" y="148" width="2" height="2" fill="#fff"/>
<rect x="1635" y="146" width="6" height="6" fill="#0000ff"/>
<rect x="1637" y="148" width="2" height="2" fill="#fff"/>
<rect x="5" y="184" width="1637" height="2" fill="#0000ff"/>
<rect x="4" y="182" width="6" height="6" fill="#0000ff"/>
<rect x="6" y="184" width="2" height="2" fill="#fff"/>
<rect x="1635" y="182" width="6" height="6" fill="#0000ff"/>
<rect x="1637" y="184" width="2" height="2" fill="#fff"/>
</g>
<path d="M1438.5 30 L1448.5 30 L1443.5 35 Z" fill="#000"/>
<path d="M8 36 L15.2 36 L11.6 40 Z" fill="#000"/>
<g class="c">
<rect x="1642" y="44" width="2" height="1" fill="#000"/>
<rect x="1642" y="77" width="2" height="1" fill="#000"/>
<rect x="1642" y="110" width="2" height="1" fill="#000"/>
<rect x="1642" y="143" width="2" height="1" fill="#000"/>
<rect x="1642" y="176" width="2" height="1" fill="#000"/>
<rect x="1642" y="209" width="2" height="1" fill="#000"/>
<rect x="1642" y="242" width="2" height="1" fill="#000"/>
<rect x="1642" y="275" width="2" height="1" fill="#000"/>
<rect x="1642" y="308" width="2" height="1" fill="#000"/>
<rect x="1642" y="341" width="2" height="1" fill="#000"/>
<rect x="1642" y="374" width="2" height="1" fill="#000"/>
<rect x="1642" y="407" width="2" height="1" fill="#000"/>
<rect x="1642" y="440" width="2" height="1" fill="#000"/>
<rect x="1642" y="473" width="2" height="1" fill="#000"/>
<rect x="1642" y="506" width="2" height="1" fill="#000"/>
<rect x="1642" y="539" width="2" height="1" fill="#000"/>
<rect x="1642" y="572" width="2" height="1" fill="#000"/>
<rect x="1642" y="605" width="2" height="1" fill="#000"/>
</g>
<g class="t" fill="#000" stroke="#000">
<text x="1647.3" y="48" textLength="32.6" lengthAdjust="spacingAndGlyphs">1.05640</text>
<text x="1647.3" y="81" textLength="32.6" lengthAdjust="spacingAndGlyphs">1.05420</text>
<text x="1647.3" y="114" textLength="32.6" lengthAdjust="spacingAndGlyphs">1.05200</text>
<text x="1647.3" y="147" textLength="32.6" lengthAdjust="spacingAndGlyphs">1.04980</text>
<text x="1647.3" y="180" textLength="32.6" lengthAdjust="spacingAndGlyphs">1.04765</text>
<text x="1647.3" y="213" textLength="32.6" lengthAdjust="spacingAndGlyphs">1.04545</text>
<text x="1647.3" y="246" textLength="32.6" lengthAdjust="spacingAndGlyphs">1.04325</text>
<text x="1647.3" y="279" textLength="32.6" lengthAdjust="spacingAndGlyphs">1.04105</text>
<text x="1647.3" y="312" textLength="32.6" lengthAdjust="spacingAndGlyphs">1.03885</text>
<text x="1647.3" y="345" textLength="32.6" lengthAdjust="spacingAndGlyphs">1.03670</text>
<text x="1647.3" y="378" textLength="32.6" lengthAdjust="spacingAndGlyphs">1.03450</text>
<text x="1647.3" y="411" textLength="32.6" lengthAdjust="spacingAndGlyphs">1.03230</text>
<text x="1647.3" y="444" textLength="32.6" lengthAdjust="spacingAndGlyphs">1.03010</text>
<text x="1647.3" y="477" textLength="32.6" lengthAdjust="spacingAndGlyphs">1.02790</text>
<text x="1647.3" y="510" textLength="32.6" lengthAdjust="spacingAndGlyphs">1.02575</text>
<text x="1647.3" y="543" textLength="32.6" lengthAdjust="spacingAndGlyphs">1.02355</text>
<text x="1647.3" y="576" textLength="32.6" lengthAdjust="spacingAndGlyphs">1.02135</text>
<text x="1647.3" y="609" textLength="32.6" lengthAdjust="spacingAndGlyphs">1.01915</text>
</g>
<g class="c">
<rect x="1643" y="29" width="41" height="11" fill="#ff0000"/>
<rect x="1643" y="60" width="41" height="11" fill="#ff0000"/>
<rect x="1643" y="97" width="41" height="11" fill="#000000"/>
<rect x="1643" y="116" width="41" height="11" fill="#ffa500"/>
<rect x="1643" y="143" width="41" height="11" fill="#0000ff"/>
<rect x="1643" y="179" width="41" height="11" fill="#0000ff"/>
</g>
<g class="t">
<text x="1647.3" y="38" fill="#fff" stroke="#fff" textLength="32.6" lengthAdjust="spacingAndGlyphs">1.05697</text>
<text x="1647.3" y="69" fill="#fff" stroke="#fff" textLength="32.6" lengthAdjust="spacingAndGlyphs">1.05496</text>
<text x="1647.3" y="106" fill="#fff" stroke="#fff" textLength="32.6" lengthAdjust="spacingAndGlyphs">1.05255</text>
<text x="1647.3" y="125" fill="#fff" stroke="#fff" textLength="32.6" lengthAdjust="spacingAndGlyphs">1.05125</text>
<text x="1647.3" y="152" fill="#fff" stroke="#fff" textLength="32.6" lengthAdjust="spacingAndGlyphs">1.04945</text>
<text x="1647.3" y="188" fill="#fff" stroke="#fff" textLength="32.6" lengthAdjust="spacingAndGlyphs">1.04702</text>
</g>
<text class="t l" x="20" y="41" fill="#000" stroke="#000" textLength="204.5" lengthAdjust="spacingAndGlyphs">EURUSD-,H4&#160; 1.05177 1.05294 1.05110 1.05255</text>
<g class="c"><rect x="17" y="30" width="215" height="4" fill="#ffffff"/><rect x="10" y="34" width="400" height="2" fill="#ff0000"/></g>
<g class="c">
<rect x="5" y="629" width="2" height="71" fill="#00ff00"/>
<rect x="20" y="621" width="3" height="79" fill="#00ff00"/>
<rect x="36" y="618" width="3" height="82" fill="#00ff00"/>
<rect x="52" y="617" width="3" height="83" fill="#00ff00"/>
<rect x="68" y="619" width="3" height="81" fill="#00ff00"/>
<rect x="84" y="621" width="3" height="79" fill="#00ff00"/>
<rect x="100" y="622" width="3" height="78" fill="#00ff00"/>
<rect x="116" y="623" width="3" height="77" fill="#00ff00"/>
<rect x="132" y="624" width="3" height="76" fill="#00ff00"/>
<rect x="148" y="628" width="3" height="72" fill="#00ff00"/>
<rect x="164" y="625" width="3" height="75" fill="#00ff00"/>
<rect x="180" y="623" width="3" height="77" fill="#00ff00"/>
<rect x="196" y="626" width="3" height="74" fill="#00ff00"/>
<rect x="212" y="629" width="3" height="71" fill="#00ff00"/>
<rect x="228" y="633" width="3" height="67" fill="#00ff00"/>
<rect x="244" y="637" width="3" height="63" fill="#00ff00"/>
<rect x="260" y="638" width="3" height="62" fill="#00ff00"/>
<rect x="276" y="638" width="3" height="62" fill="#00ff00"/>
<rect x="292" y="640" width="3" height="60" fill="#00ff00"/>
<rect x="308" y="642" width="3" height="58" fill="#00ff00"/>
<rect x="324" y="645" width="3" height="55" fill="#00ff00"/>
<rect x="340" y="649" width="3" height="51" fill="#00ff00"/>
<rect x="356" y="652" width="3" height="48" fill="#00ff00"/>
<rect x="372" y="658" width="3" height="42" fill="#00ff00"/>
<rect x="388" y="664" width="3" height="36" fill="#00ff00"/>
<rect x="404" y="667" width="3" height="33" fill="#00ff00"/>
<rect x="420" y="670" width="3" height="30" fill="#00ff00"/>
<rect x="436" y="671" width="3" height="29" fill="#00ff00"/>
<rect x="452" y="672" width="3" height="28" fill="#00ff00"/>
<rect x="468" y="675" width="3" height="25" fill="#00ff00"/>
<rect x="484" y="677" width="3" height="23" fill="#00ff00"/>
<rect x="500" y="681" width="3" height="19" fill="#00ff00"/>
<rect x="516" y="685" width="3" height="15" fill="#00ff00"/>
<rect x="532" y="690" width="3" height="10" fill="#00ff00"/>
<rect x="548" y="694" width="3" height="6" fill="#00ff00"/>
<rect x="564" y="697" width="3" height="3" fill="#00ff00"/>
<rect x="580" y="700" width="3" height="4" fill="#00ff00"/>
<rect x="596" y="700" width="3" height="10" fill="#00ff00"/>
<rect x="612" y="700" width="3" height="14" fill="#00ff00"/>
<rect x="628" y="700" width="3" height="17" fill="#00ff00"/>
<rect x="644" y="700" width="3" height="19" fill="#00ff00"/>
<rect x="660" y="700" width="3" height="19" fill="#00ff00"/>
<rect x="676" y="700" width="3" height="19" fill="#00ff00"/>
<rect x="692" y="700" width="3" height="18" fill="#00ff00"/>
<rect x="708" y="700" width="3" height="16" fill="#00ff00"/>
<rect x="724" y="700" width="3" height="15" fill="#00ff00"/>
<rect x="740" y="700" width="3" height="11" fill="#00ff00"/>
<rect x="756" y="700" width="3" height="8" fill="#00ff00"/>
<rect x="772" y="700" width="3" height="4" fill="#00ff00"/>
<rect x="788" y="700" width="3" height="2" fill="#00ff00"/>
<rect x="804" y="696" width="3" height="4" fill="#00ff00"/>
<rect x="820" y="690" width="3" height="10" fill="#00ff00"/>
<rect x="836" y="684" width="3" height="16" fill="#00ff00"/>
<rect x="852" y="678" width="3" height="22" fill="#00ff00"/>
<rect x="868" y="676" width="3" height="24" fill="#00ff00"/>
<rect x="884" y="675" width="3" height="25" fill="#00ff00"/>
<rect x="900" y="674" width="3" height="26" fill="#00ff00"/>
<rect x="916" y="674" width="3" height="26" fill="#00ff00"/>
<rect x="932" y="674" width="3" height="26" fill="#00ff00"/>
<rect x="948" y="674" width="3" height="26" fill="#00ff00"/>
<rect x="964" y="675" width="3" height="25" fill="#00ff00"/>
<rect x="980" y="676" width="3" height="24" fill="#00ff00"/>
<rect x="996" y="678" width="3" height="22" fill="#00ff00"/>
<rect x="1012" y="678" width="3" height="22" fill="#00ff00"/>
<rect x="1028" y="682" width="3" height="18" fill="#00ff00"/>
<rect x="1044" y="686" width="3" height="14" fill="#00ff00"/>
<rect x="1060" y="688" width="3" height="12" fill="#00ff00"/>
<rect x="1076" y="683" width="3" height="17" fill="#00ff00"/>
<rect x="1092" y="684" width="3" height="16" fill="#00ff00"/>
<rect x="1108" y="690" width="3" height="10" fill="#00ff00"/>
<rect x="1124" y="694" width="3" height="6" fill="#00ff00"/>
<rect x="1140" y="694" width="3" height="6" fill="#00ff00"/>
<rect x="1156" y="695" width="3" height="5" fill="#00ff00"/>
<rect x="1172" y="695" width="3" height="5" fill="#00ff00"/>
<rect x="1188" y="697" width="3" height="3" fill="#00ff00"/>
<rect x="1204" y="700" width="3" height="2" fill="#00ff00"/>
<rect x="1220" y="700" width="3" height="5" fill="#00ff00"/>
<rect x="1236" y="700" width="3" height="6" fill="#00ff00"/>
<rect x="1252" y="700" width="3" height="6" fill="#00ff00"/>
<rect x="1268" y="700" width="3" height="6" fill="#00ff00"/>
<rect x="1284" y="700" width="3" height="10" fill="#00ff00"/>
<rect x="1300" y="700" width="3" height="5" fill="#00ff00"/>
<rect x="1316" y="699" width="3" height="1" fill="#00ff00"/>
<rect x="1332" y="695" width="3" height="5" fill="#00ff00"/>
<rect x="1348" y="694" width="3" height="6" fill="#00ff00"/>
<rect x="1364" y="690" width="3" height="10" fill="#00ff00"/>
<rect x="1380" y="684" width="3" height="16" fill="#00ff00"/>
<rect x="1396" y="678" width="3" height="22" fill="#00ff00"/>
<rect x="1412" y="672" width="3" height="28" fill="#00ff00"/>
<polyline points="5.5,656.0 21.5,650.2 37.5,644.4 53.5,638.4 69.5,632.5 85.5,628.0 101.5,625.0 117.5,622.5 133.5,621.0 149.5,620.7 165.5,621.0 181.5,622.0 197.5,623.5 213.5,624.5 229.5,626.5 245.5,627.5 261.5,630.0 277.5,631.7 293.5,632.7 309.5,635.0 325.5,637.0 341.5,640.0 357.5,642.7 373.5,645.0 389.5,647.7 405.5,651.2 421.5,654.4 437.5,658.7 453.5,662.0 469.5,665.0 485.5,667.4 501.5,670.4 517.5,673.2 533.5,676.2 549.5,679.2 565.5,682.0 581.5,686.2 597.5,690.4 613.5,694.4 629.5,699.9 645.5,703.9 661.5,707.9 677.5,710.6 693.5,712.4 709.5,714.6 725.5,715.6 741.5,715.9 757.5,715.4 773.5,712.9 789.5,710.9 805.5,708.9 821.5,706.5 837.5,702.9 853.5,698.4 869.5,694.4 885.5,690.4 901.5,686.4 917.5,683.4 933.5,680.4 949.5,678.4 965.5,676.2 981.5,675.4 997.5,674.9 1013.5,674.9 1029.5,675.9 1045.5,677.4 1061.5,679.4 1077.5,680.4 1093.5,681.4 1109.5,683.4 1125.5,685.4 1141.5,686.4 1157.5,688.4 1173.5,689.9 1189.5,691.4 1205.5,693.4 1221.5,695.4 1237.5,697.1 1253.5,698.9 1269.5,700.4 1285.5,702.4 1301.5,702.6 1317.5,702.6 1333.5,702.6 1349.5,702.4 1365.5,701.4 1381.5,698.4 1397.5,695.4 1413.5,692.9" fill="none" stroke="#ff0000" stroke-width="2" stroke-linejoin="round"/>
</g>
<text class="t l" x="9.5" y="623" fill="#000" stroke="#000" textLength="147.5" lengthAdjust="spacingAndGlyphs">MACD(12,26,9) 0.003235 0.001007</text>
<g class="t" fill="#000" stroke="#000">
<text x="1644.8" y="621" textLength="38" lengthAdjust="spacingAndGlyphs">0.010191</text>
<text x="1644.8" y="704" textLength="17.8" lengthAdjust="spacingAndGlyphs">0.00</text>
<text x="1644.8" y="721" textLength="40.6" lengthAdjust="spacingAndGlyphs">-0.002642</text>
</g>
<g class="c"><rect x="1642" y="700" width="2" height="1" fill="#000"/><rect x="1642" y="612" width="1" height="1" fill="#000"/><rect x="1642" y="723" width="1" height="1" fill="#000"/><rect x="1642" y="728" width="1" height="1" fill="#000"/><rect x="1642" y="838" width="1" height="1" fill="#000"/></g>
<g class="c">
<line x1="6" y1="750.5" x2="1641" y2="750.5" stroke="#000" stroke-width="1" stroke-dasharray="3 3"/>
<line x1="6" y1="783.5" x2="1641" y2="783.5" stroke="#000" stroke-width="1" stroke-dasharray="3 3"/>
<line x1="6" y1="822.5" x2="1641" y2="822.5" stroke="#000" stroke-width="1" stroke-dasharray="3 3"/>
<polyline points="5.5,752.8 21.5,751.6 37.5,757.8 53.5,757.8 69.5,757.8 85.5,766.0 101.5,762.3 117.5,761.0 133.5,766.0 149.5,766.0 165.5,758.8 181.5,758.8 197.5,766.8 213.5,767.8 229.5,769.0 245.5,769.0 261.5,764.3 277.5,762.8 293.5,765.3 309.5,766.8 325.5,766.8 341.5,771.8 357.5,770.0 373.5,778.5 389.5,780.8 405.5,777.3 421.5,777.0 437.5,773.5 453.5,775.3 469.5,776.8 485.5,776.8 501.5,785.5 517.5,786.3 533.5,788.3 549.5,791.8 565.5,790.0 581.5,797.3 597.5,799.8 613.5,799.8 629.5,799.0 645.5,797.8 661.5,793.5 677.5,791.5 693.5,790.5 709.5,786.5 725.5,783.5 741.5,779.3 757.5,777.5 773.5,771.8 789.5,778.0 805.5,766.8 821.5,764.1 837.5,761.0 853.5,758.8 869.5,766.8 885.5,769.0 901.5,769.0 917.5,767.8 933.5,769.0 949.5,769.0 965.5,770.3 981.5,775.8 997.5,771.8 1013.5,771.8 1029.5,784.8 1045.5,786.8 1061.5,783.5 1077.5,765.5 1093.5,779.8 1109.5,789.0 1125.5,789.0 1141.5,782.3 1157.5,781.8 1173.5,781.8 1189.5,786.0 1205.5,790.8 1221.5,790.8 1237.5,786.0 1253.5,785.8 1269.5,784.8 1285.5,794.0 1301.5,776.3 1317.5,775.8 1333.5,774.8 1349.5,778.0 1365.5,774.5 1381.5,768.5 1397.5,765.0 1413.5,764.8" fill="none" stroke="#1e90ff" stroke-width="2" stroke-linejoin="round"/>
</g>
<text class="t l" x="9.5" y="739" fill="#000" stroke="#000" textLength="67.5" lengthAdjust="spacingAndGlyphs">RSI(14) 66.6778</text>
<g class="t" fill="#000" stroke="#000">
<text x="1644.8" y="737" textLength="15.0" lengthAdjust="spacingAndGlyphs">100</text>
<text x="1644.8" y="754" textLength="10.0" lengthAdjust="spacingAndGlyphs">80</text>
<text x="1644.8" y="787" textLength="10.0" lengthAdjust="spacingAndGlyphs">50</text>
<text x="1644.8" y="826" textLength="10.0" lengthAdjust="spacingAndGlyphs">15</text>
<text x="1644.8" y="836" textLength="5.0" lengthAdjust="spacingAndGlyphs">0</text>
</g>
<g class="c">
<rect x="5" y="840" width="1" height="3" fill="#000"/>
<rect x="69" y="840" width="1" height="3" fill="#000"/>
<rect x="133" y="840" width="1" height="3" fill="#000"/>
<rect x="197" y="840" width="1" height="3" fill="#000"/>
<rect x="261" y="840" width="1" height="3" fill="#000"/>
<rect x="325" y="840" width="1" height="3" fill="#000"/>
<rect x="389" y="840" width="1" height="3" fill="#000"/>
<rect x="453" y="840" width="1" height="3" fill="#000"/>
<rect x="517" y="840" width="1" height="3" fill="#000"/>
<rect x="581" y="840" width="1" height="3" fill="#000"/>
<rect x="645" y="840" width="1" height="3" fill="#000"/>
<rect x="709" y="840" width="1" height="3" fill="#000"/>
<rect x="773" y="840" width="1" height="3" fill="#000"/>
<rect x="837" y="840" width="1" height="3" fill="#000"/>
<rect x="901" y="840" width="1" height="3" fill="#000"/>
<rect x="965" y="840" width="1" height="3" fill="#000"/>
<rect x="1029" y="840" width="1" height="3" fill="#000"/>
<rect x="1093" y="840" width="1" height="3" fill="#000"/>
<rect x="1157" y="840" width="1" height="3" fill="#000"/>
<rect x="1221" y="840" width="1" height="3" fill="#000"/>
<rect x="1285" y="840" width="1" height="3" fill="#000"/>
<rect x="1349" y="840" width="1" height="3" fill="#000"/>
<rect x="1413" y="840" width="1" height="3" fill="#000"/>
</g>
<g class="t" fill="#000" stroke="#000">
<text x="3.8" y="852" textLength="54.3" lengthAdjust="spacingAndGlyphs">11 Nov 2022</text>
<text x="67.8" y="852" textLength="57.7" lengthAdjust="spacingAndGlyphs">14 Nov 04:00</text>
<text x="131.8" y="852" textLength="57.7" lengthAdjust="spacingAndGlyphs">14 Nov 20:00</text>
<text x="195.8" y="852" textLength="57.7" lengthAdjust="spacingAndGlyphs">15 Nov 12:00</text>
<text x="259.8" y="852" textLength="57.7" lengthAdjust="spacingAndGlyphs">16 Nov 04:00</text>
<text x="323.8" y="852" textLength="57.7" lengthAdjust="spacingAndGlyphs">16 Nov 20:00</text>
<text x="387.8" y="852" textLength="57.7" lengthAdjust="spacingAndGlyphs">17 Nov 12:00</text>
<text x="451.8" y="852" textLength="57.7" lengthAdjust="spacingAndGlyphs">18 Nov 04:00</text>
<text x="515.8" y="852" textLength="57.7" lengthAdjust="spacingAndGlyphs">18 Nov 18:00</text>
<text x="579.8" y="852" textLength="57.7" lengthAdjust="spacingAndGlyphs">21 Nov 04:00</text>
<text x="643.8" y="852" textLength="57.7" lengthAdjust="spacingAndGlyphs">21 Nov 20:00</text>
<text x="707.8" y="852" textLength="57.7" lengthAdjust="spacingAndGlyphs">22 Nov 12:00</text>
<text x="771.8" y="852" textLength="57.7" lengthAdjust="spacingAndGlyphs">23 Nov 04:00</text>
<text x="835.8" y="852" textLength="57.7" lengthAdjust="spacingAndGlyphs">23 Nov 20:00</text>
<text x="899.8" y="852" textLength="57.7" lengthAdjust="spacingAndGlyphs">24 Nov 12:00</text>
<text x="963.8" y="852" textLength="57.7" lengthAdjust="spacingAndGlyphs">25 Nov 04:00</text>
<text x="1027.8" y="852" textLength="57.7" lengthAdjust="spacingAndGlyphs">27 Nov 23:00</text>
<text x="1091.8" y="852" textLength="57.7" lengthAdjust="spacingAndGlyphs">28 Nov 12:00</text>
<text x="1155.8" y="852" textLength="57.7" lengthAdjust="spacingAndGlyphs">29 Nov 04:00</text>
<text x="1219.8" y="852" textLength="57.7" lengthAdjust="spacingAndGlyphs">29 Nov 20:00</text>
<text x="1283.8" y="852" textLength="57.7" lengthAdjust="spacingAndGlyphs">30 Nov 12:00</text>
<text x="1347.8" y="852" textLength="50.6" lengthAdjust="spacingAndGlyphs">1 Dec 04:00</text>
<text x="1411.8" y="852" textLength="50.6" lengthAdjust="spacingAndGlyphs">1 Dec 20:00</text>
</g>
<line x1="1419.7" y1="284.5" x2="1483" y2="151.5" stroke="#ed1c24" stroke-width="3.4" stroke-linecap="butt"/>
<path d="M1489.9 137.6 L1474.1 150 L1489.9 158 Z" fill="#ed1c24"/>
</svg>
</body></html>
